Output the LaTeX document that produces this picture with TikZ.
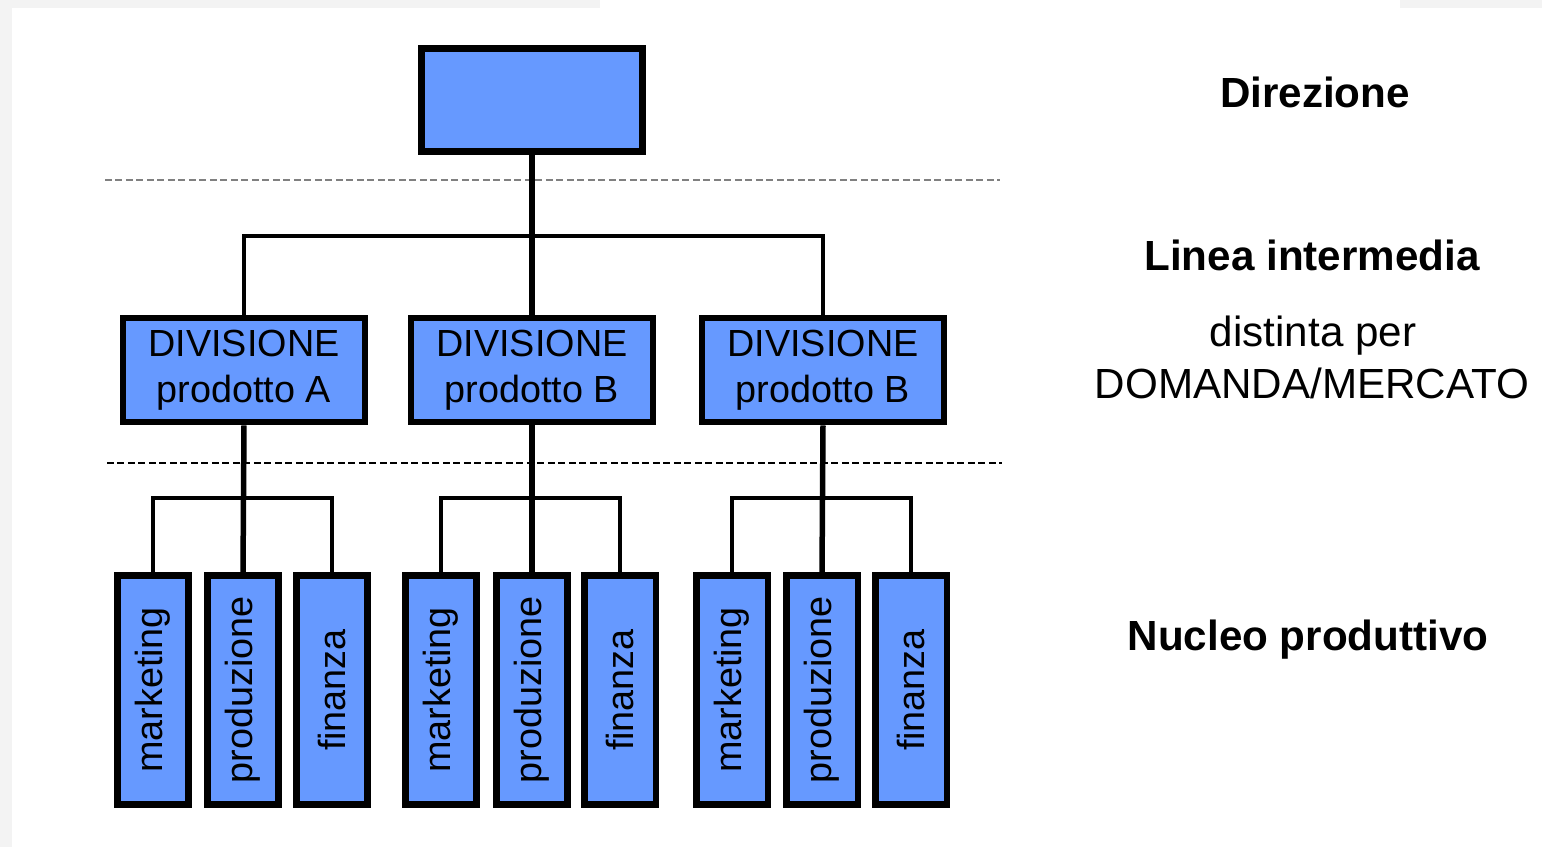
\documentclass[tikz,border=0pt]{standalone}
\usepackage{fontspec}
\setmainfont{Liberation Sans}
\definecolor{boxblue}{HTML}{6699FF}
\definecolor{slidegray}{HTML}{F3F3F3}

\begin{document}
\begin{tikzpicture}[x=0.02cm,y=-0.02cm,
		unit/.style={draw,fill=boxblue,line width=0.13cm,inner sep=0pt,align=center,font=\fontsize{21.5}{26}\selectfont},
		divbox/.style={unit,minimum width=4.85cm,minimum height=2.09cm},
		funcbox/.style={unit,rotate=90,minimum width=4.59cm,minimum height=1.43cm},
		trunk/.style={line width=0.11cm},
		branch/.style={line width=0.08cm},
		level/.style={line width=0.04cm,dash pattern=on 0.14cm off 0.07cm},
		tag/.style={anchor=base,font=\fontsize{24}{28}\selectfont}]
		\useasboundingbox (0,0) rectangle (1542,847);
		% slide edge
		\fill[slidegray] (0,0) rectangle (12,847);
		\fill[slidegray] (0,0) rectangle (600,8);
		\fill[slidegray] (1400,0) rectangle (1542,8);
		% levels
		\draw[level,gray] (105,180)--(1000,180);
		\draw[level] (107,463)--(1002,463);
		% boxes
		\node[unit,minimum width=4.43cm,minimum height=2.07cm] (dir) at (532,100) {};
		\node[divbox] (dA) at (244,370) {DIVISIONE\\prodotto A};
		\node[divbox] (dB) at (532,370) {DIVISIONE\\prodotto B};
		\node[divbox] (dC) at (823,370) {DIVISIONE\\prodotto B};
		\node[funcbox] (mA) at (153,690) {marketing};
		\node[funcbox] (pA) at (243,690) {produzione};
		\node[funcbox] (fA) at (332,690) {finanza};
		\node[funcbox] (mB) at (441,690) {marketing};
		\node[funcbox] (pB) at (532,690) {produzione};
		\node[funcbox] (fB) at (620,690) {finanza};
		\node[funcbox] (mC) at (732,690) {marketing};
		\node[funcbox] (pC) at (822,690) {produzione};
		\node[funcbox] (fC) at (911,690) {finanza};
		% connectors
		\coordinate (topbar) at (532,236);
		\coordinate (barA) at (243,498);
		\coordinate (barB) at (532,498);
		\coordinate (barC) at (822,498);
		\draw[trunk] (dir.south)--(dB.north);
		\draw[branch] (dA.north) |- (topbar) -| (dC.north);
		\draw[trunk] (dA.south)--(pA.east);
		\draw[trunk] (dB.south)--(pB.east);
		\draw[trunk] (dC.south)--(pC.east);
		\draw[branch] (mA.east) |- (barA) -| (fA.east);
		\draw[branch] (mB.east) |- (barB) -| (fB.east);
		\draw[branch] (mC.east) |- (barC) -| (fC.east);
		% right labels
		\node[tag,font=\fontsize{24}{28}\selectfont\bfseries] (lDir) at (1315,108) {Direzione};
		\node[tag,font=\fontsize{24}{28}\selectfont\bfseries] (lLin) at (1312,271) {Linea intermedia};
		\node[tag] (lDis) at (1313,347) {distinta per};
		\node[tag] (lDom) at (1312,399) {DOMANDA/MERCATO};
		\node[tag,font=\fontsize{24}{28}\selectfont\bfseries] (lNuc) at (1308,650) {Nucleo produttivo};
	\end{tikzpicture}
\end{document}
